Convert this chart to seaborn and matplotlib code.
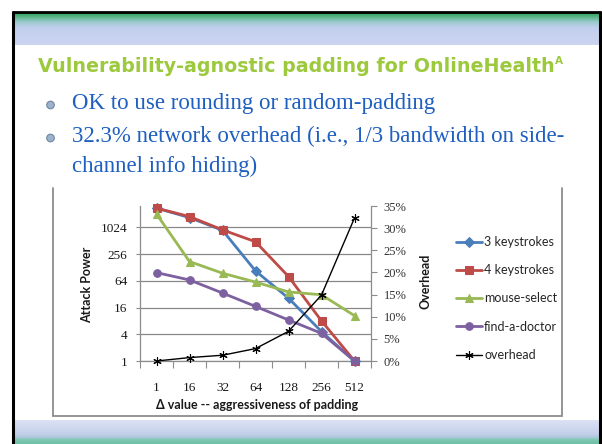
import numpy as np
import pandas as pd
import matplotlib
matplotlib.use("Agg")
import matplotlib.pyplot as plt
import seaborn as sns
from matplotlib.colors import to_rgb
from matplotlib.patches import Circle

# ---- data -------------------------------------------------------------
padding = ["1", "16", "32", "64", "128", "256", "512"]
keystrokes3 = [2780, 1700, 880, 107, 26, 4.6, 1]
keystrokes4 = [2780, 1795, 900, 486, 80, 8, 1]
mouse_select = [2048, 174, 95, 60, 36, 31, 10.5]
find_doctor = [98, 67, 34, 17, 8.4, 4.2, 1]
overhead_pct = [0.0, 0.77, 1.3, 2.8, 6.7, 14.9, 32.3]

series_names = ["3 keystrokes", "4 keystrokes", "mouse-select", "find-a-doctor"]
overhead_name = "overhead"
power_ticks = [1, 4, 16, 64, 256, 1024]
overhead_ticks = [0, 5, 10, 15, 20, 25, 30, 35]

title_text = "Vulnerability-agnostic padding for OnlineHealth"
title_sup = "A"
bullet_lines = [
    "OK to use rounding or random-padding",
    "32.3% network overhead (i.e., 1/3 bandwidth on side-",
    "channel info hiding)",
]
x_title = "\u0394 value -- aggressiveness of padding"
y_title = "Attack Power"
y2_title = "Overhead"

# ---- style ------------------------------------------------------------
sns.set_style("white")
plt.rcParams["font.family"] = ["DejaVu Sans"]

colors = {"3 keystrokes": "#4A7EBB", "4 keystrokes": "#BE4B48",
          "mouse-select": "#98B954", "find-a-doctor": "#7D60A0"}
markers = {"3 keystrokes": "D", "4 keystrokes": "s",
           "mouse-select": "^", "find-a-doctor": "o"}

W, H = 602, 444
fig = plt.figure(figsize=(W / 100, H / 100), dpi=100)
fig.patch.set_facecolor("white")


def fx(px):
    return px / W


def fy(py):
    return 1 - py / H


# ---- slide background -------------------------------------------------
bg = fig.add_axes([0, 0, 1, 1], zorder=0)
bg.set_xlim(0, W)
bg.set_ylim(H, 0)
bg.axis("off")


def gradient(y0, y1, stops, x0=13, x1=600):
    ys = np.linspace(y0, y1, 200)
    pos = [s[0] for s in stops]
    cols = np.array([to_rgb(s[1]) for s in stops])
    img = np.stack([np.interp(ys, pos, cols[:, k]) for k in range(3)], axis=-1)
    bg.imshow(img[:, None, :], extent=(x0, x1, y1, y0), aspect="auto",
              interpolation="bilinear", zorder=1)


gradient(12, 45, [(12, "#239a58"), (16, "#4fb27a"), (22, "#9ccad0"),
                  (28, "#c2cfee"), (45, "#ccd5f0")])
gradient(420, 444, [(420, "#dce2f3"), (434, "#c3cfea"), (437.5, "#a9c8dc"),
                    (439.5, "#80c9b0"), (444, "#6dc0a6")])

# black slide frame
bg.plot([12.5, 12.5], [11, 444], color="black", lw=2.2, zorder=3,
        solid_capstyle="butt")
bg.plot([599.8, 599.8], [11, 444], color="black", lw=2.2, zorder=3,
        solid_capstyle="butt")
bg.plot([11.5, 601], [12, 12], color="black", lw=2.0, zorder=3,
        solid_capstyle="butt")

# chart frame
bg.plot([52.5, 52.5, 561.5, 561.5], [188, 415.5, 415.5, 188],
        color="#8c8c8c", lw=1.3, zorder=2, solid_joinstyle="miter")

# title
t = fig.text(fx(38), fy(67), title_text, fontsize=13.7, fontweight="bold",
             color="#9CC93D", va="center", ha="left",
             family=["DejaVu Sans"])
fig.canvas.draw()
bb = t.get_window_extent()
fig.text(bb.x1 / fig.dpi / fig.get_size_inches()[0] + 0.001, fy(61), title_sup,
         fontsize=7.5, fontweight="bold", color="#9CC93D", va="center",
         ha="left", family=["DejaVu Sans"])

# bullets
bullet_y = [104, 137]
for yb in bullet_y:
    bg.add_patch(Circle((50.5, yb + 1), 3.8, facecolor="#9fb2cc",
                        edgecolor="#6f86a6", lw=0.8, zorder=3))
for text_line, yl in zip(bullet_lines, [103, 136, 166]):
    fig.text(fx(72), fy(yl), text_line, fontsize=16.5, color="#1f5fc0",
             va="center", ha="left", family=["Liberation Serif"])

# ---- chart ------------------------------------------------------------
pos = np.arange(len(padding))
df = pd.DataFrame({
    "pos": np.tile(pos, len(series_names)),
    "power": np.concatenate([keystrokes3, keystrokes4, mouse_select, find_doctor]),
    "series": np.repeat(series_names, len(padding)),
})

ax = fig.add_axes([fx(140), fy(361), fx(371) - fx(140), fy(206) - fy(361)],
                  zorder=2)
ax.patch.set_alpha(0)
ax.set_yscale("log", base=4)
sns.lineplot(data=df, x="pos", y="power", hue="series", style="series",
             hue_order=series_names, style_order=series_names,
             palette=colors, markers=markers, dashes=False, sort=False,
             linewidth=2.0, markersize=5.5, legend=False, ax=ax)
for ln in ax.get_lines():
    ln.set_markeredgecolor(ln.get_color())
    ln.set_clip_on(False)
    ln.set_zorder(3)

ax.set_xlim(-0.5, len(padding) - 0.5)
ax.set_ylim(1, 4 ** 5.8)
ax.set_xticks(pos)
ax.set_xticklabels(padding)
ax.set_xticks(np.arange(len(padding) + 1) - 0.5, minor=True)
ax.tick_params(axis="x", which="major", length=0, pad=15, labelsize=9.5,
               labelcolor="#1a1a1a")
ax.tick_params(axis="x", which="minor", length=5, width=0.8, color="#8c8c8c",
               direction="out", bottom=True)
ax.set_yticks(power_ticks)
ax.set_yticklabels([str(v) for v in power_ticks])
ax.yaxis.set_minor_locator(matplotlib.ticker.NullLocator())
ax.tick_params(axis="y", which="major", length=3, width=0.8, color="#8c8c8c",
               direction="out", pad=6, labelsize=9.5, labelcolor="#1a1a1a",
               left=True)
for lab in ax.get_xticklabels() + ax.get_yticklabels():
    lab.set_family(["Liberation Serif"])
ax.grid(axis="y", which="major", color="#888888", lw=0.9)
ax.grid(axis="x", visible=False)
ax.set_axisbelow(True)
for side in ["top", "right"]:
    ax.spines[side].set_visible(False)
for side in ["left", "bottom"]:
    ax.spines[side].set_color("#8c8c8c")
    ax.spines[side].set_linewidth(0.9)
ax.set_xlabel("")
ax.set_ylabel("")

ax2 = ax.twinx()
ax2.set_zorder(3)
ax2.patch.set_alpha(0)
sns.lineplot(x=pos, y=overhead_pct, ax=ax2, color="black", marker=(6, 2, 0),
             markersize=6, markeredgecolor="black", markeredgewidth=0.8,
             linewidth=1.0, sort=False, legend=False)
for ln in ax2.get_lines():
    ln.set_clip_on(False)
ax2.set_ylim(0, 35)
ax2.set_yticks(overhead_ticks)
ax2.set_yticklabels([f"{v}%" for v in overhead_ticks])
ax2.tick_params(axis="y", length=4, width=0.8, color="#8c8c8c",
                direction="out", pad=5, labelsize=9, labelcolor="#333333")
for lab in ax2.get_yticklabels():
    lab.set_family(["Liberation Serif"])
for side in ["top", "left", "bottom"]:
    ax2.spines[side].set_visible(False)
ax2.spines["right"].set_color("#8c8c8c")
ax2.spines["right"].set_linewidth(0.9)
ax2.set_ylabel("")

# axis titles
fig.text(fx(87), fy(285), y_title, rotation=90, fontsize=9, fontweight="bold",
         va="center", ha="center", color="#1a1a1a", family=["Lato", "DejaVu Sans"])
fig.text(fx(425), fy(281), y2_title, rotation=90, fontsize=9, fontweight="bold",
         va="center", ha="center", color="#1a1a1a", family=["Lato", "DejaVu Sans"])
fig.text(fx(257), fy(405), x_title, fontsize=9, fontweight="bold",
         va="center", ha="center", color="#1a1a1a", family=["Lato", "DejaVu Sans"])

# legend
handles = list(ax.get_lines()) + list(ax2.get_lines())
labels = series_names + [overhead_name]
fig.legend(handles, labels, loc="center left",
           bbox_to_anchor=(fx(456), fy(298.4)), frameon=False,
           handlelength=2.1, handletextpad=0.15, labelspacing=1.3,
           borderpad=0, borderaxespad=0, numpoints=1,
           prop={"family": ["Lato", "DejaVu Sans"], "size": 9})

fig.savefig("out.png", dpi=100)
